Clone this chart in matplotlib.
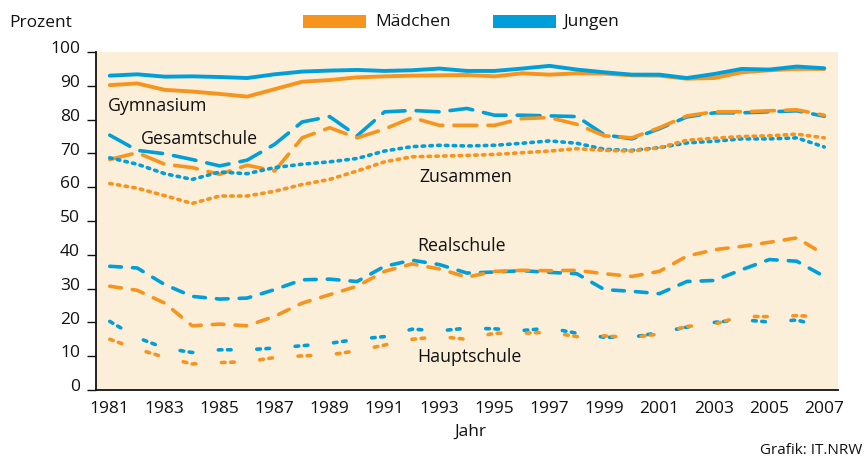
import matplotlib
matplotlib.use('Agg')
import matplotlib.pyplot as plt
from matplotlib.transforms import ScaledTranslation
from matplotlib.patches import Rectangle

# ---------------- data ----------------
years = list(range(1981, 2008))

gym_m = [90.2, 90.7, 88.8, 88.3, 87.6, 86.8, 89.0, 91.2, 91.7, 92.5, 92.8, 93.0, 93.1, 93.2,
         92.8, 93.7, 93.3, 93.7, 93.6, 93.1, 93.0, 92.1, 92.3, 94.0, 94.6, 95.0, 95.0]
gym_j = [93.0, 93.4, 92.7, 92.8, 92.6, 92.3, 93.4, 94.2, 94.5, 94.7, 94.4, 94.6, 95.1, 94.4,
         94.4, 95.1, 95.9, 94.8, 94.0, 93.3, 93.3, 92.3, 93.5, 95.0, 94.8, 95.7, 95.2]

ges_m = [68.2, 70.2, 66.8, 65.8, 63.8, 66.5, 64.8, 74.6, 77.6, 74.6, 77.2, 80.6, 78.3, 78.3,
         78.3, 80.3, 80.6, 78.6, 75.2, 74.6, 77.6, 81.1, 82.3, 82.3, 82.6, 82.9, 81.3]
ges_j = [75.4, 70.9, 69.9, 68.2, 66.3, 68.0, 72.7, 79.3, 80.9, 75.2, 82.3, 82.7, 82.3, 83.3,
         81.3, 81.3, 81.1, 80.9, 75.5, 74.3, 77.3, 80.8, 82.0, 82.0, 82.3, 82.6, 81.0]

zus_m = [61.1, 59.7, 57.5, 55.2, 57.4, 57.4, 58.8, 60.8, 62.3, 64.8, 67.5, 69.0, 69.2, 69.4,
         69.7, 70.2, 70.7, 71.4, 70.9, 70.7, 71.7, 73.9, 74.5, 75.0, 75.2, 75.7, 74.6]
zus_j = [68.7, 66.8, 64.0, 62.3, 64.5, 64.0, 65.8, 66.8, 67.5, 68.5, 70.7, 72.0, 72.4, 72.2,
         72.4, 73.0, 73.7, 73.0, 71.2, 70.9, 71.7, 73.1, 73.6, 74.3, 74.3, 74.6, 71.9]

real_m = [30.7, 29.5, 25.7, 19.0, 19.5, 19.0, 21.8, 25.7, 28.2, 30.7, 35.1, 37.3, 35.8, 33.4,
          35.1, 35.4, 35.3, 35.4, 34.4, 33.6, 35.1, 39.6, 41.5, 42.5, 43.7, 45.0, 40.1]
real_j = [36.6, 36.1, 31.2, 27.7, 26.9, 27.2, 29.7, 32.6, 32.8, 32.1, 36.6, 38.4, 37.1, 34.6,
          34.9, 35.3, 34.8, 34.4, 29.7, 29.2, 28.5, 32.1, 32.4, 35.6, 38.6, 38.1, 33.6]

haupt_m = [15.0, 12.1, 9.7, 7.7, 8.1, 8.4, 9.6, 10.1, 10.4, 11.6, 13.3, 15.0, 15.8, 15.0,
           16.8, 16.8, 17.1, 15.8, 16.0, 15.5, 16.6, 18.8, 19.5, 21.8, 21.7, 22.0, 21.6]
haupt_j = [20.3, 15.5, 12.4, 11.1, 11.9, 11.9, 12.4, 13.1, 13.8, 15.0, 15.8, 18.0, 17.5, 18.3,
           18.1, 17.6, 18.3, 16.8, 15.6, 15.6, 17.0, 18.6, 20.0, 20.8, 20.1, 20.7, 18.6]

school_labels = ['Gymnasium', 'Gesamtschule', 'Zusammen', 'Realschule', 'Hauptschule']
legend_labels = ['Mädchen', 'Jungen']
yticks = [0, 10, 20, 30, 40, 50, 60, 70, 80, 90, 100]
xticks = list(range(1981, 2008, 2))

# ---------------- style ----------------
ORANGE = '#F7941D'
BLUE = '#009FDA'
BG = '#FCEFDA'
TXT = '#111111'

plt.rcParams['font.family'] = ['Open Sans', 'DejaVu Sans']
plt.rcParams['lines.scale_dashes'] = False

fig = plt.figure(figsize=(8.64, 4.57), dpi=100)
W, H = 864.0, 457.0
ax = fig.add_axes([96 / W, 1 - 390 / H, (838 - 96) / W, (390 - 52) / H])
ax.set_facecolor(BG)
ax.set_xlim(1980.5, 2007.5)
ax.set_ylim(0, 100)

styles = [
    (gym_m, gym_j, '-', 2.8),
    (ges_m, ges_j, (0, (16.5, 8.0)), 2.6),
    (zus_m, zus_j, (0, (1.8, 3.8)), 2.6),
    (real_m, real_j, (0, (8.4, 8.0)), 2.6),
    (haupt_m, haupt_j, (0, (2.6, 4.0, 2.6, 18.5)), 2.6),
]

for i, (m, j, ls, lw) in enumerate(styles):
    if i == 0:
        order = [(m, ORANGE), (j, BLUE)]
    else:
        order = [(j, BLUE), (m, ORANGE)]
    for vals, col in order:
        ax.plot(years, vals, color=col, lw=lw, linestyle=ls,
                dash_capstyle='round', solid_capstyle='round',
                solid_joinstyle='round', dash_joinstyle='round')

# school labels
label_pos = [(1980.93, 84.0), (1982.13, 74.3), (1992.27, 63.0), (1992.2, 42.6), (1992.2, 9.8)]
for txt, (x, y) in zip(school_labels, label_pos):
    ax.text(x, y, txt, ha='left', va='center', fontsize=12.8, color=TXT)

# axes styling
for s in ['top', 'right']:
    ax.spines[s].set_visible(False)
for s in ['left', 'bottom']:
    ax.spines[s].set_linewidth(1.3)
    ax.spines[s].set_color(TXT)

ax.set_yticks(yticks)
ax.set_yticklabels([str(v) for v in yticks])
ax.set_xticks(xticks)
ax.set_xticklabels([str(v) for v in xticks])
ax.tick_params(axis='y', length=6.5, width=1.0, pad=5, labelsize=12.5, colors=TXT)
ax.tick_params(axis='x', length=0, pad=8, labelsize=12.5, colors=TXT)
for lab in ax.get_yticklabels():
    lab.set_transform(lab.get_transform() + ScaledTranslation(0, 3.5 / 72, fig.dpi_scale_trans))

# texts outside axes
fig.text(9 / W, 1 - 23 / H, 'Prozent', ha='left', va='center', fontsize=12.5, color=TXT)
fig.text(470 / W, 1 - 432 / H, 'Jahr', ha='center', va='center', fontsize=12.5, color=TXT)
fig.text(862 / W, 1 - 450 / H, 'Grafik: IT.NRW', ha='right', va='center', fontsize=11, color=TXT)

# legend (manual)
leg_items = [(ORANGE, 303, 375), (BLUE, 493, 563)]
for (col, px, tx), lab in zip(leg_items, legend_labels):
    fig.add_artist(Rectangle((px / W, 1 - 27.7 / H), 63 / W, 12.7 / H,
                             transform=fig.transFigure, color=col, lw=0))
    fig.text(tx / W, 1 - 21.5 / H, lab, ha='left', va='center', fontsize=12.5, color=TXT)

fig.savefig('out.png', dpi=100)
